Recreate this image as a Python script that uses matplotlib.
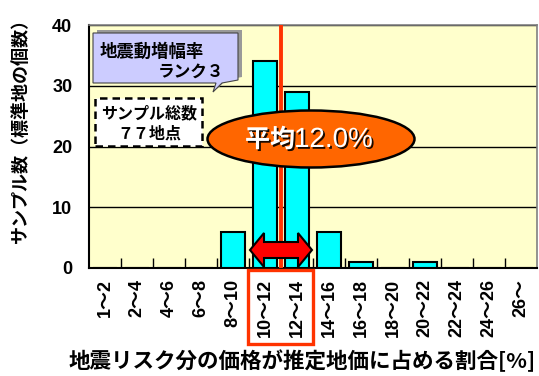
import matplotlib
matplotlib.use("Agg")
import matplotlib.pyplot as plt
from matplotlib.patches import Polygon, Ellipse, Rectangle
import matplotlib.patheffects as pe
import numpy as np

categories = ["1～2", "2～4", "4～6", "6～8", "8～10", "10～12", "12～14",
              "14～16", "16～18", "18～20", "20～22", "22～24", "24～26", "26～"]
counts = [0, 0, 0, 0, 6, 34, 29, 6, 1, 0, 1, 0, 0, 0]
yticks = [0, 10, 20, 30, 40]
mean_pos = 5.5          # boundary between 10~12 and 12~14 (12.0%)
mean_label_a = "平均"
mean_label_b = "12.0%"
ylabel = "サンプル数（標準地の個数）"
xlabel = "地震リスク分の価格が推定地価に占める割合[%]"
box1_lines = ["地震動増幅率", "ランク３"]
box2_lines = ["サンプル総数", "７７地点"]

JP = ["Noto Sans CJK JP", "DejaVu Sans"]
NUM = ["Liberation Sans", "Noto Sans CJK JP"]

W, H = 539, 376
fig = plt.figure(figsize=(W / 100, H / 100), dpi=100)
L, R, T, B = 89, 537, 25, 268
ax = fig.add_axes([L / W, 1 - B / H, (R - L) / W, (B - T) / H])
ax.set_facecolor("#FFFFCC")

x = np.arange(len(categories))
ax.bar(x, counts, width=0.74, color="#00FFFF", edgecolor="black",
       linewidth=1.5, zorder=3)
ax.set_xlim(-0.5, len(categories) - 0.5)
ax.set_ylim(0, 40)
ax.set_yticks(yticks)
ax.set_yticklabels([str(v) for v in yticks], family=NUM, fontweight="bold",
                   fontsize=13)
ax.tick_params(axis="y", length=0, pad=12)
ax.set_xticks(x)
ax.set_xticklabels(categories, rotation=90, family=NUM, fontweight="bold",
                   fontsize=13)
ax.tick_params(axis="x", length=0, pad=8)
ax.set_xticks(np.arange(0.5, len(categories) - 0.5, 1), minor=True)
ax.tick_params(axis="x", which="minor", direction="in", length=7, width=1,
               color="black")
ax.yaxis.grid(True, color="black", linewidth=1, zorder=1)
ax.set_axisbelow(True)
for s in ["top", "right"]:
    ax.spines[s].set_color("#808080")
    ax.spines[s].set_linewidth(1.2)
for s in ["left", "bottom"]:
    ax.spines[s].set_color("black")
    ax.spines[s].set_linewidth(1.5)

ax.axvline(mean_pos, color="#FF3300", linewidth=2.8, zorder=4)

def P(px, py):
    return (px / W, 1 - py / H)

ft = fig.transFigure

# red rectangle around 10~12 / 12~14 labels
rx0, ry0, rx1, ry1 = 248, 270, 313, 344
ax.add_patch(Rectangle(P(rx0, ry1), (rx1 - rx0) / W, (ry1 - ry0) / H,
                       transform=ft, fill=False, edgecolor="#FF3300",
                       linewidth=2.4, clip_on=False, zorder=6))

# double-headed arrow
cy = 250
xa, xb = 250, 312
hl, hh, bh = 14, 17, 8
arr = [(xa, cy), (xa + hl, cy - hh), (xa + hl, cy - bh), (xb - hl, cy - bh),
       (xb - hl, cy - hh), (xb, cy), (xb - hl, cy + hh), (xb - hl, cy + bh),
       (xa + hl, cy + bh), (xa + hl, cy + hh)]
ax.add_patch(Polygon([P(*p) for p in arr], closed=True, transform=ft,
                     facecolor="#FF0000", edgecolor="black", linewidth=1.5,
                     clip_on=False, zorder=7))

# ellipse with mean label
ax.add_patch(Ellipse(P(311, 139), 207 / W, 57 / H, transform=ft,
                     facecolor="#FF6600", edgecolor="black", linewidth=1.8,
                     clip_on=False, zorder=8))
shadow = [pe.SimplePatchShadow(offset=(1.3, -1.3), shadow_rgbFace="black",
                               alpha=0.9), pe.Normal()]
fig.text(*P(295, 140), mean_label_a, ha="right", va="center", color="white",
         fontsize=18, family=JP, fontweight="bold", zorder=9,
         path_effects=shadow)
fig.text(*P(294, 140), mean_label_b, ha="left", va="center", color="white",
         fontsize=20, family=["Liberation Sans"],
         zorder=9, path_effects=shadow)

# callout 1 (lavender with shadow)
c1 = [(93, 33), (238, 33), (238, 80), (222, 83), (213, 92), (216, 83), (93, 83)]
sh = [(px + 4, py - 3) for px, py in c1]
ax.add_patch(Polygon([P(*p) for p in sh], closed=True, transform=ft,
                     facecolor="#999999", edgecolor="none", clip_on=False,
                     zorder=8))
ax.add_patch(Polygon([P(*p) for p in c1], closed=True, transform=ft,
                     facecolor="#CCCCFF", edgecolor="#444444", linewidth=0.8,
                     clip_on=False, zorder=9))
fig.text(*P(100, 52), box1_lines[0], ha="left", va="center", family=JP,
         fontweight="bold", fontsize=12.5, zorder=10)
fig.text(*P(224, 72), box1_lines[1], ha="right", va="center", family=JP,
         fontweight="bold", fontsize=12, zorder=10)

# dashed box
ax.add_patch(Rectangle(P(95, 146), (202 - 95) / W, (146 - 98) / H,
                       transform=ft, facecolor="white", edgecolor="black",
                       linewidth=1.8, linestyle=(0, (3, 2)), clip_on=False,
                       zorder=9))
fig.text(*P(149, 113), box2_lines[0], ha="center", va="center", family=JP,
         fontweight="bold", fontsize=11.5, zorder=10)
fig.text(*P(149, 134), box2_lines[1], ha="center", va="center", family=JP,
         fontweight="bold", fontsize=11.5, zorder=10)

fig.text(*P(20, 126), ylabel, rotation=90, ha="center", va="center",
         family=JP, fontweight="bold", fontsize=13)
fig.text(*P(302, 361), xlabel, ha="center", va="center", family=JP,
         fontweight="bold", fontsize=15.5)

fig.savefig("out.png", dpi=100)
